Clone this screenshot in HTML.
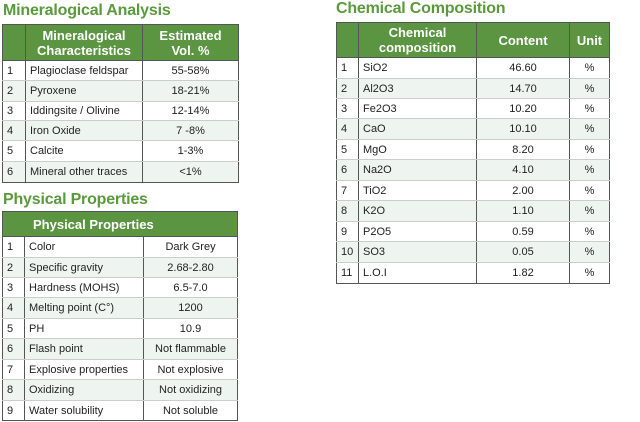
<!DOCTYPE html>
<html><head><style>
body{margin:0;width:640px;height:422px;background:#fff;font-family:"Liberation Sans",sans-serif;position:relative;overflow:hidden}
.t{position:absolute;color:#5a9a3c;font-weight:bold;font-size:16px;line-height:16px;white-space:nowrap;letter-spacing:-0.2px}
table{position:absolute;border-collapse:collapse;font-size:11px;color:#222;table-layout:fixed}
td,th{border:1px solid #555;padding:0 0 0 4px;white-space:nowrap;overflow:hidden}
th{background:#5b9541;color:#fff;font-size:13px;font-weight:bold;text-align:center;padding:0;line-height:15px}
td.c{text-align:center;padding:0}
tr.a td{background:#eef5f0}
td{border-bottom-color:#ccc}
tr:last-child td{border-bottom-color:#555}
</style></head><body>
<div class="t" style="left:3px;top:3px">Mineralogical Analysis</div>
<table style="left:2px;top:24px;width:236px">
<col style="width:23px"><col style="width:117px"><col style="width:96px">
<tr style="height:36px"><th></th><th>Mineralogical<br>Characteristics</th><th>Estimated<br>Vol. %</th></tr>
<tr style="height:20px"><td>1</td><td>Plagioclase feldspar</td><td class="c">55-58%</td></tr>
<tr class="a" style="height:21px"><td>2</td><td>Pyroxene</td><td class="c">18-21%</td></tr>
<tr style="height:19px"><td>3</td><td>Iddingsite / Olivine</td><td class="c">12-14%</td></tr>
<tr class="a" style="height:20px"><td>4</td><td>Iron Oxide</td><td class="c">7 -8%</td></tr>
<tr style="height:21px"><td>5</td><td>Calcite</td><td class="c">1-3%</td></tr>
<tr class="a" style="height:21px"><td>6</td><td>Mineral other traces</td><td class="c">&lt;1%</td></tr>
</table>
<div class="t" style="left:3px;top:192px">Physical Properties</div>
<table style="left:2px;top:211px;width:235px">
<col style="width:22px"><col style="width:119px"><col style="width:94px">
<tr style="height:25px"><th colspan="3" style="text-align:left;padding-left:30px">Physical Properties</th></tr>
<tr style="height:21px"><td>1</td><td>Color</td><td class="c">Dark Grey</td></tr>
<tr class="a" style="height:20px"><td>2</td><td>Specific gravity</td><td class="c">2.68-2.80</td></tr>
<tr style="height:20px"><td>3</td><td>Hardness (MOHS)</td><td class="c">6.5-7.0</td></tr>
<tr class="a" style="height:21px"><td>4</td><td>Melting point (C°)</td><td class="c">1200</td></tr>
<tr style="height:20px"><td>5</td><td>PH</td><td class="c">10.9</td></tr>
<tr class="a" style="height:21px"><td>6</td><td>Flash point</td><td class="c">Not flammable</td></tr>
<tr style="height:20px"><td>7</td><td>Explosive properties</td><td class="c">Not explosive</td></tr>
<tr class="a" style="height:21px"><td>8</td><td>Oxidizing</td><td class="c">Not oxidizing</td></tr>
<tr style="height:20px"><td>9</td><td>Water solubility</td><td class="c">Not soluble</td></tr>
</table>
<div class="t" style="left:336px;top:1px">Chemical Composition</div>
<table style="left:336px;top:22px;width:273px">
<col style="width:22px"><col style="width:118px"><col style="width:93px"><col style="width:40px">
<tr style="height:35px"><th></th><th>Chemical<br>composition</th><th>Content</th><th>Unit</th></tr>
<tr style="height:21px"><td>1</td><td>SiO2</td><td class="c">46.60</td><td class="c">%</td></tr>
<tr class="a" style="height:20px"><td>2</td><td>Al2O3</td><td class="c">14.70</td><td class="c">%</td></tr>
<tr style="height:20px"><td>3</td><td>Fe2O3</td><td class="c">10.20</td><td class="c">%</td></tr>
<tr class="a" style="height:21px"><td>4</td><td>CaO</td><td class="c">10.10</td><td class="c">%</td></tr>
<tr style="height:20px"><td>5</td><td>MgO</td><td class="c">8.20</td><td class="c">%</td></tr>
<tr class="a" style="height:21px"><td>6</td><td>Na2O</td><td class="c">4.10</td><td class="c">%</td></tr>
<tr style="height:20px"><td>7</td><td>TiO2</td><td class="c">2.00</td><td class="c">%</td></tr>
<tr class="a" style="height:21px"><td>8</td><td>K2O</td><td class="c">1.10</td><td class="c">%</td></tr>
<tr style="height:20px"><td>9</td><td>P2O5</td><td class="c">0.59</td><td class="c">%</td></tr>
<tr class="a" style="height:21px"><td>10</td><td>SO3</td><td class="c">0.05</td><td class="c">%</td></tr>
<tr style="height:21px"><td>11</td><td>L.O.I</td><td class="c">1.82</td><td class="c">%</td></tr>
</table>
</body></html>
